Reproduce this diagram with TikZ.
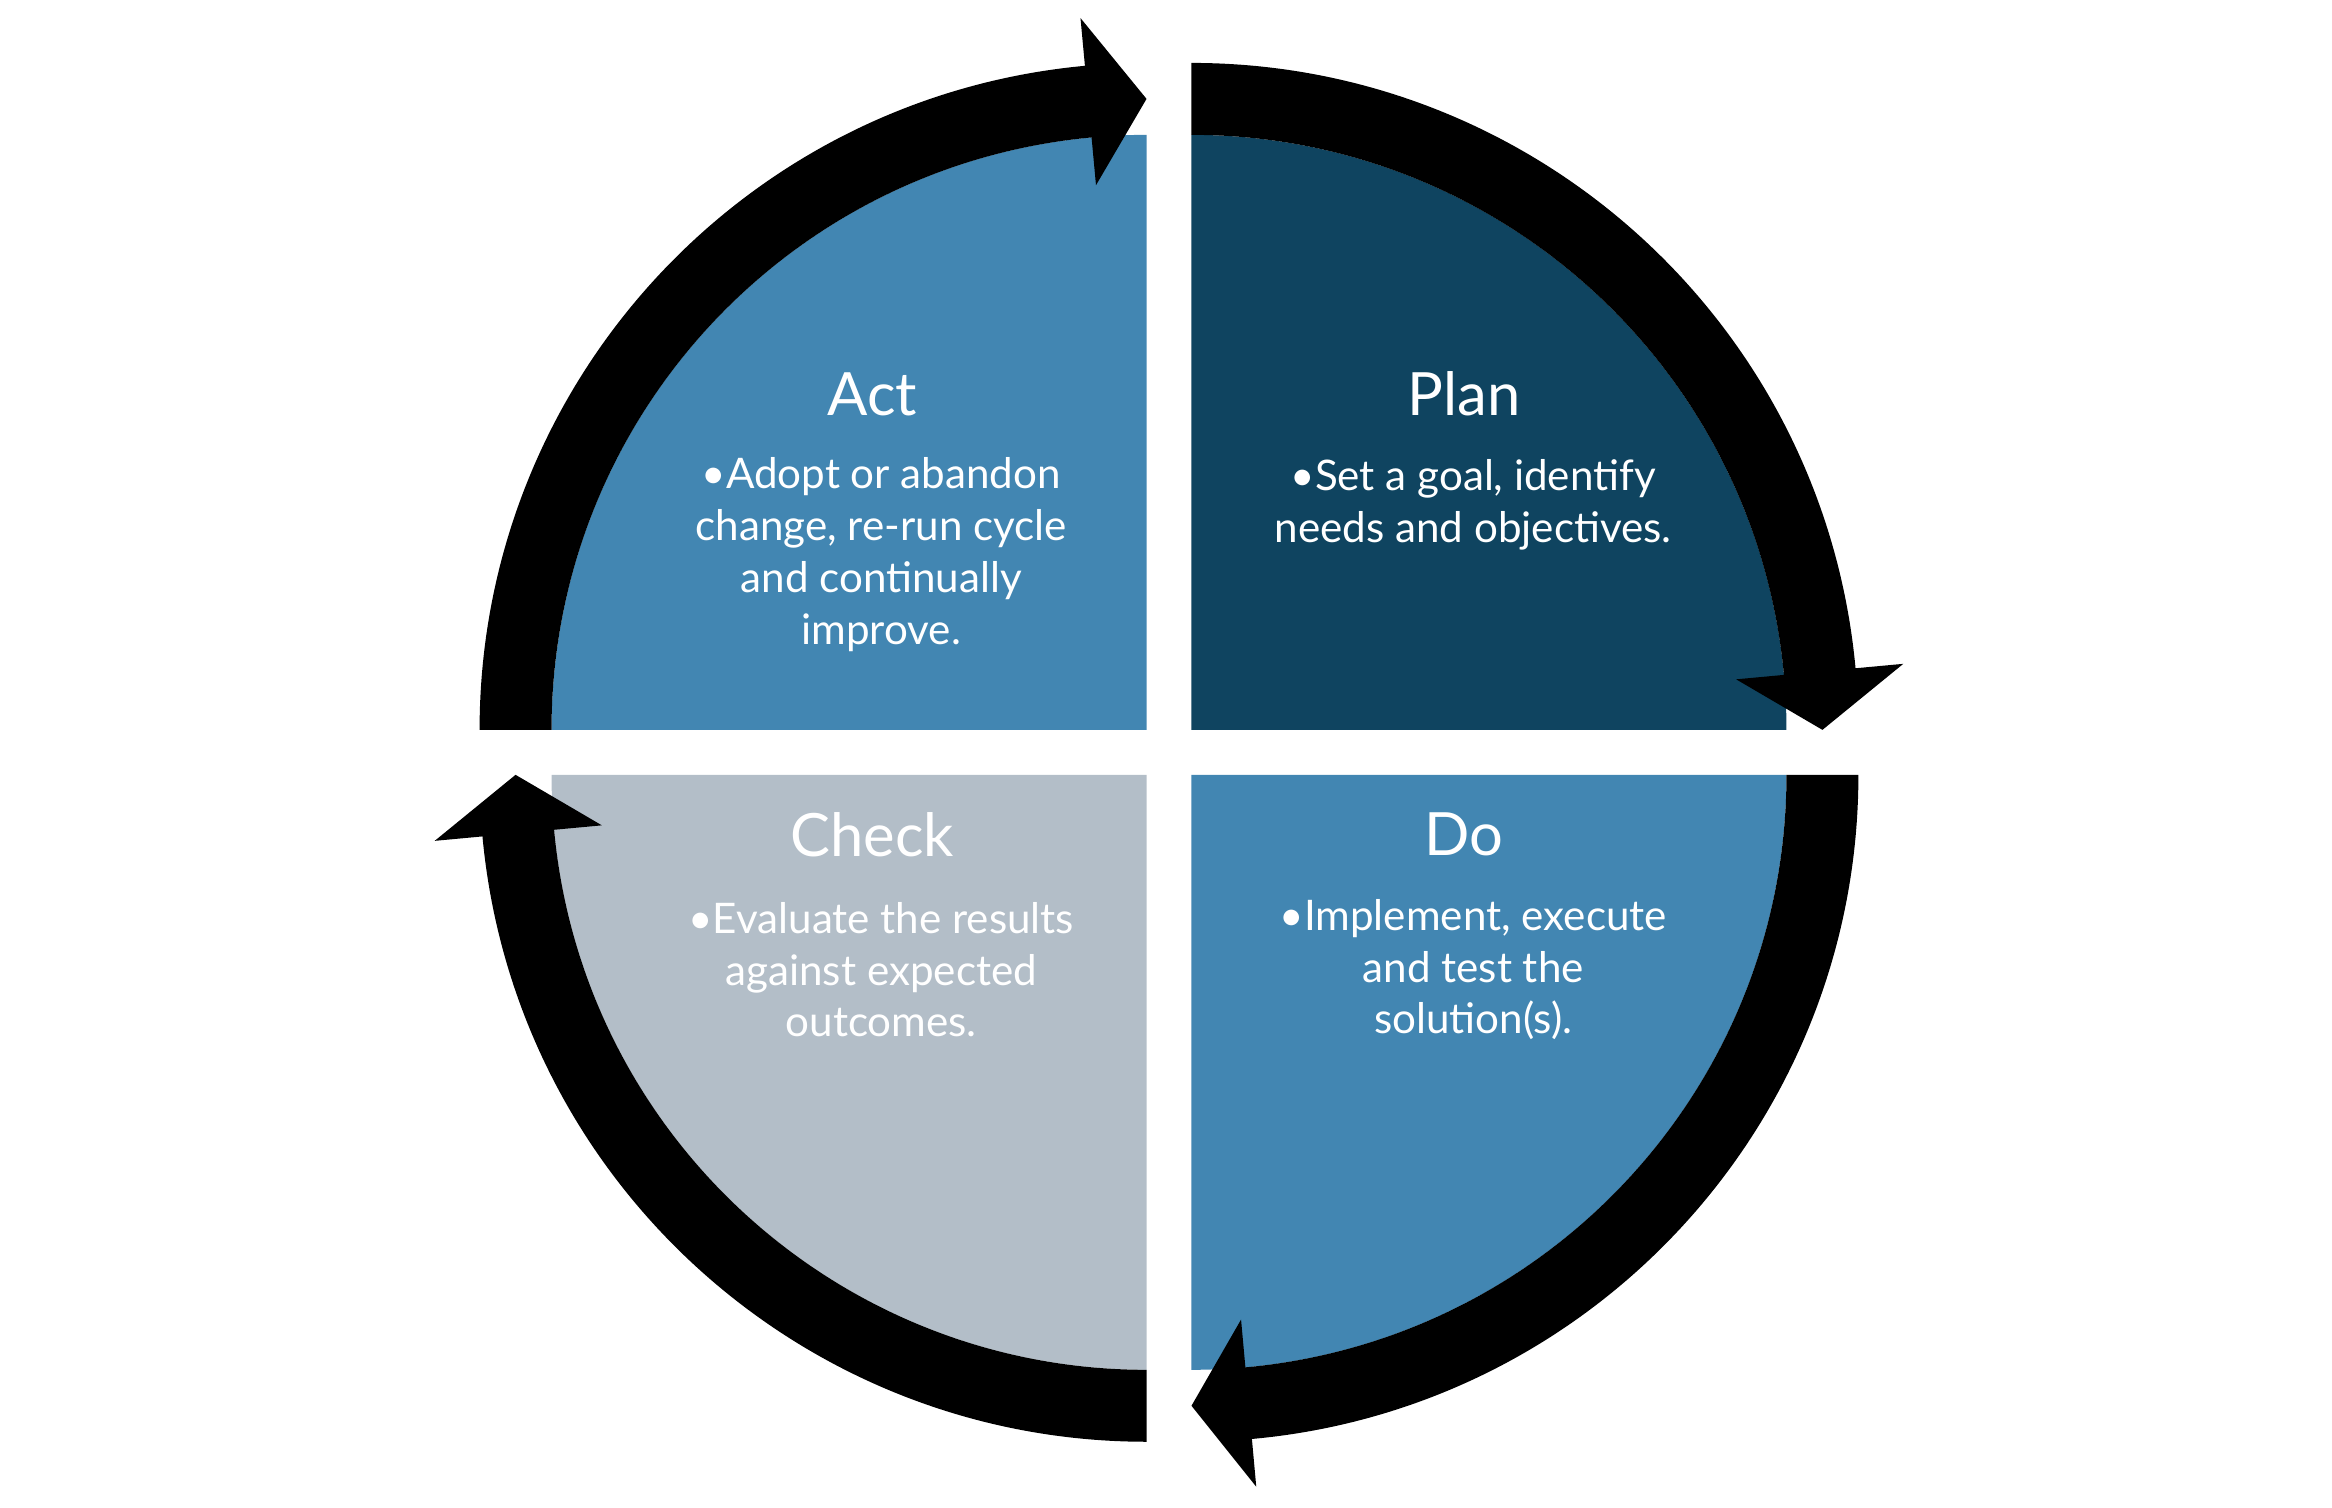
\documentclass[tikz,border=0pt]{standalone}
\usepackage{fontspec}
\setmainfont{Lato}
\definecolor{plan}{HTML}{0F4460}
\definecolor{mid}{HTML}{4286B2}
\definecolor{chk}{HTML}{B3BEC8}
\newcommand\cycarrow[4]{%
  \fill[black] ($#1+(#2:445)$) arc[start angle=#2,end angle=#3,radius=445]
    -- ($#1+(#3:477)$) -- ($#1+(#4:421)$) -- ($#1+(#3:365)$) -- ($#1+(#3:397)$)
    arc[start angle=#3,end angle=#2,radius=397] -- cycle;}
\usetikzlibrary{calc}
\begin{document}
\begin{tikzpicture}[x=0.03cm,y=0.03cm,
  ttl/.style={text=white,font=\fontsize{34}{40}\selectfont,inner sep=0},
  bdy/.style={text=white,font=\fontsize{24}{29.5}\selectfont,align=center,inner sep=0}]
\useasboundingbox (0,0) rectangle (1556,1006);
\coordinate (cp) at (795,519);
\coordinate (ca) at (765,519);
\coordinate (cc) at (765,489);
\coordinate (cd) at (795,489);
\fill[plan] (cp) -- ++(90:397) arc[start angle=90,end angle=0,radius=397] -- cycle;
\fill[mid] (ca) -- ++(180:397) arc[start angle=180,end angle=90,radius=397] -- cycle;
\fill[chk] (cc) -- ++(270:397) arc[start angle=270,end angle=180,radius=397] -- cycle;
\fill[mid] (cd) -- ++(0:397) arc[start angle=0,end angle=-90,radius=397] -- cycle;
\cycarrow{(cp)}{90}{5.3}{0}
\cycarrow{(cd)}{0}{-84.8}{-90}
\cycarrow{(cc)}{270}{185.3}{180}
\cycarrow{(ca)}{180}{95.3}{90}
\node[ttl] (tp) at (977,743) {Plan};
\node[bdy] (bp) at (983,669) {•Set a goal, identify\\needs and objectives.};
\node[ttl] (ta) at (582,743) {Act};
\node[bdy] (ba) at (588,636) {•Adopt or abandon\\change, re-run cycle\\and continually\\improve.};
\node[ttl] (tc) at (582,449) {Check};
\node[bdy] (bc) at (588,359) {•Evaluate the results\\against expected\\outcomes.};
\node[ttl] (td) at (977,449) {Do};
\node[bdy] (bd) at (983,359) {•Implement, execute\\and test the\\solution(s).};
\end{tikzpicture}
\end{document}
